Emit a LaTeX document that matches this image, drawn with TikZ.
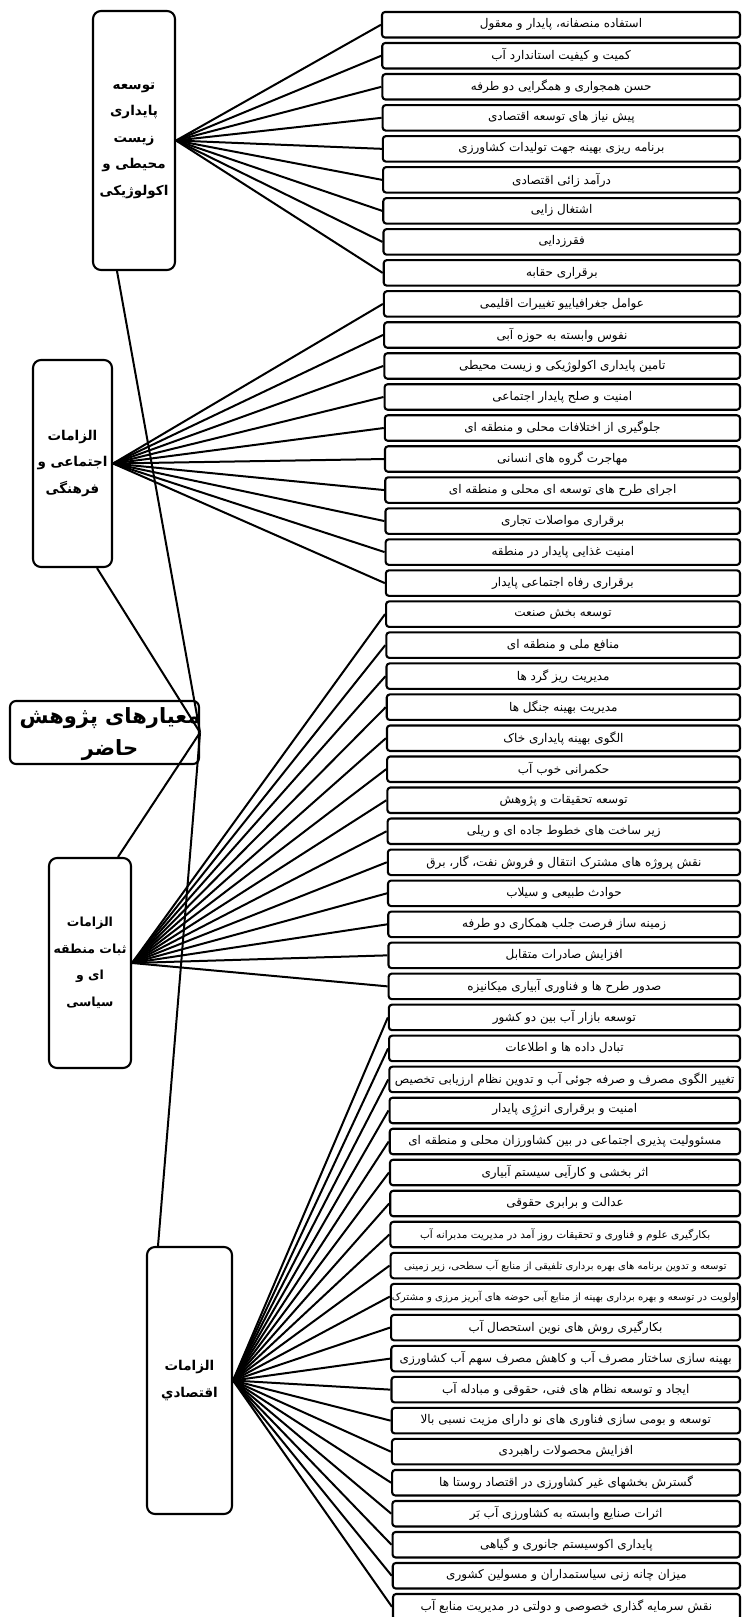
\documentclass[tikz,border=0pt]{standalone}
\usepackage{fontspec}
\usepackage{graphicx}
\TeXXeTstate=1
\newfontfamily\arabicfont[Script=Arabic]{DejaVu Sans}
\newsavebox\txtbox
\newcommand\fitar[2]{\sbox\txtbox{\beginR #2\endR}\ifdim\wd\txtbox>#1\relax\resizebox{#1}{!}{\usebox\txtbox}\else\usebox\txtbox\fi}
\begin{document}
\begin{tikzpicture}[x=1pt,y=-1pt,line join=round]
\tikzset{
 rbox/.style={draw, line width=2.1pt, rounded corners=3pt, inner sep=0pt, fill=white},
 lbox/.style={draw, line width=2.1pt, rounded corners=8pt, fill=white, inner sep=0pt, align=center,
   font=\arabicfont\bfseries\fontsize{13.5}{26.5}\selectfont},
 link/.style={line width=2pt},
}
\useasboundingbox (0,0) rectangle (742,1617);
\node[lbox, minimum width=82pt, minimum height=259pt] (A) at (134,140.5)
 {\beginR توسعه\endR\\\beginR پایداری\endR\\\beginR زیست\endR\\\beginR محیطی و\endR\\\beginR اکولوژیکی\endR};
\node[lbox, minimum width=79pt, minimum height=207pt] (B) at (72.5,463.5)
 {\beginR الزامات\endR\\\beginR اجتماعی و\endR\\\beginR فرهنگی\endR};
\node[lbox, minimum width=82pt, minimum height=210pt, font=\arabicfont\bfseries\fontsize{12.5}{26.5}\selectfont] (C) at (90,963)
 {\beginR الزامات\endR\\\beginR ثبات منطقه\endR\\\beginR ای و\endR\\\beginR سیاسی\endR};
\node[lbox, minimum width=85pt, minimum height=267pt] (D) at (189.5,1380.5)
 {\beginR الزامات\endR\\\beginR اقتصادي\endR};
\node[lbox, rounded corners=6pt, minimum width=189pt, minimum height=63pt] (root) at (104.5,732.5) {};
\node[align=center, inner sep=0pt, font=\arabicfont\bfseries\fontsize{21}{32}\selectfont] (rootlabel) at (110,734)
 {\beginR معیارهای پژوهش\endR\\\beginR حاضر\endR};
\foreach \s/\t [count=\i] in {
12/{استفاده منصفانه، پایدار و معقول},
12/{کمیت و کیفیت استاندارد آب},
12/{حسن همجواری و همگرایی دو طرفه},
12/{پیش نیاز های توسعه اقتصادی},
12/{برنامه ریزی بهینه جهت تولیدات کشاورزی},
12/{درآمد زائی اقتصادی},
12/{اشتغال زایی},
12/{فقرزدایی},
12/{برقراری حقابه},
12/{عوامل جغرافیاییو تغییرات اقلیمی},
12/{نفوس وابسته به حوزه آبی},
12/{تامین پایداری اکولوژیکی و زیست محیطی},
12/{امنیت و صلح پایدار اجتماعی},
12/{جلوگیری از اختلافات محلی و منطقه ای},
12/{مهاجرت گروه های انسانی},
12/{اجرای طرح های توسعه ای محلی و منطقه ای},
12/{برقراری مواصلات تجاری},
12/{امنیت غذایی پایدار در منطقه},
12/{برقراری رفاه اجتماعی پایدار},
12/{توسعه بخش صنعت},
12/{منافع ملی و منطقه ای},
12/{مدیریت ریز گرد ها},
12/{مدیریت بهینه جنگل ها},
12/{الگوی بهینه پایداری خاک},
12/{حکمرانی خوب آب},
12/{توسعه تحقیقات و پژوهش},
12/{زیر ساخت های خطوط جاده ای و ریلی},
12/{نقش پروژه های مشترک انتقال و فروش نفت، گار، برق},
12/{حوادث طبیعی و سیلاب},
12/{زمینه ساز فرصت جلب همکاری دو طرفه},
12/{افزایش صادرات متقابل},
12/{صدور طرح ها و فناوری آبیاری میکانیزه},
12/{توسعه بازار آب بین دو کشور},
12/{تبادل داده ها و اطلاعات},
12/{تغییر الگوی مصرف و صرفه جوئی آب و تدوین نظام ارزیابی تخصیص},
12/{امنیت و برقراری انرژِی پایدار},
12/{مسئوولیت پذیری اجتماعی در بین کشاورزان محلی و منطقه ای},
12/{اثر بخشی و کارآیی سیستم آبیاری},
12/{عدالت و برابری حقوقی},
10.5/{بکارگیری علوم و فناوری و تحقیقات روز آمد در مدیریت مدبرانه آب},
10/{توسعه و تدوین برنامه های بهره برداری تلفیقی از منابع آب سطحی، زیر زمینی},
10.8/{اولویت در توسعه و بهره برداری بهینه از منابع آبی حوضه های آبریز مرزی و مشترک},
12/{بکارگیری روش های نوین استحصال آب},
12/{بهینه سازی ساختار مصرف آب و کاهش مصرف سهم آب کشاورزی},
12/{ایجاد و توسعه نظام های فنی، حقوقی و مبادله آب},
12/{توسعه و بومی سازی فناوری های نو دارای مزیت نسبی بالا},
12/{افزایش محصولات راهبردی},
12/{گسترش بخشهای غیر کشاورزی در اقتصاد روستا ها},
12/{اثرات صنایع وابسته به کشاورزی آب بَر},
12/{پایداری اکوسیستم جانوری و گیاهی},
12/{میزان چانه زنی سیاستمداران و مسولین کشوری},
12/{نقش سرمایه گذاری خصوصی و دولتی در مدیریت منابع آب}}{
 \pgfmathsetmacro\L{382+(\i-1)*11/51}
 \pgfmathsetmacro\W{740-\L}
 \pgfmathsetmacro\X{(\L+740)/2}
 \pgfmathsetmacro\Y{24.75+31.02*(\i-1)}
 \pgfmathsetmacro\M{ifthenelse(\s<11.5,\W-2,\W-6)}
 \node[rbox, minimum width=\W pt, minimum height=25.5pt] (r\i) at (\X,\Y)
  {\arabicfont\fontsize{\s}{\s}\selectfont\fitar{\M pt}{\t}};
}
\foreach \i in {1,...,9} \draw[link] (A.east) -- (r\i.west);
\foreach \i in {10,...,19} \draw[link] (B.east) -- (r\i.west);
\foreach \i in {20,...,32} \draw[link] (C.east) -- (r\i.west);
\foreach \i in {33,...,52} \draw[link] (D.east) -- (r\i.west);
\draw[link] (root.east) -- ([xshift=-17pt]A.south);
\draw[link] (root.east) -- ([xshift=24.5pt]B.south);
\draw[link] (root.east) -- ([xshift=28pt]C.north);
\draw[link] (root.east) -- ([xshift=-31.5pt]D.north);
\end{tikzpicture}
\end{document}
